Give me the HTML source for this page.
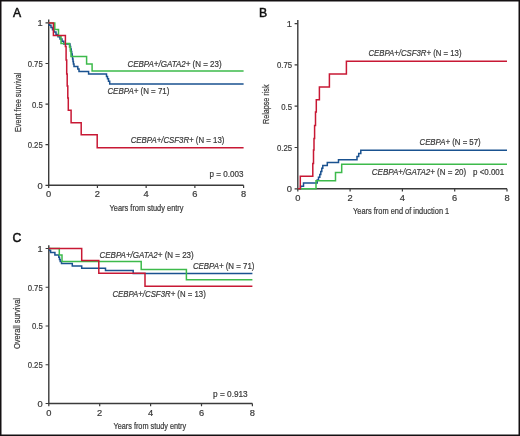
<!DOCTYPE html>
<html><head><meta charset="utf-8"><style>
html,body{margin:0;padding:0;background:#fff;}
body{width:520px;height:436px;overflow:hidden;}
svg{display:block;filter:blur(0.3px);font-family:"Liberation Sans", sans-serif;fill:#3a3a3a;}
text{stroke:#3a3a3a;stroke-width:0.22px;}
</style></head><body>
<svg width="520" height="436" viewBox="0 0 520 436">
<rect x="0" y="0" width="520" height="436" fill="#fff"/>
<g fill="#3a3a3a">
<path d="M48.7,19.6 V185.3 H243.6" fill="none" stroke="#3b3b3b" stroke-width="1.4"/>
<path d="M45.50,22.90 H48.7 M45.50,63.50 H48.7 M45.50,104.10 H48.7 M45.50,144.70 H48.7 M45.50,185.30 H48.7 M48.70,185.3 V188.10 M97.42,185.3 V188.10 M146.15,185.3 V188.10 M194.88,185.3 V188.10 M243.60,185.3 V188.10 " fill="none" stroke="#3b3b3b" stroke-width="1.2"/>
<text x="42.7" y="26.3" font-size="9.3" text-anchor="end">1</text>
<text x="42.7" y="66.9" font-size="9.3" textLength="15.07" lengthAdjust="spacingAndGlyphs" text-anchor="end">0.75</text>
<text x="42.7" y="107.5" font-size="9.3" textLength="10.76" lengthAdjust="spacingAndGlyphs" text-anchor="end">0.5</text>
<text x="42.7" y="148.1" font-size="9.3" textLength="15.07" lengthAdjust="spacingAndGlyphs" text-anchor="end">0.25</text>
<text x="42.7" y="188.7" font-size="9.3" text-anchor="end">0</text>
<text x="48.7" y="197.4" font-size="9.3" text-anchor="middle">0</text>
<text x="97.42" y="197.4" font-size="9.3" text-anchor="middle">2</text>
<text x="146.15" y="197.4" font-size="9.3" text-anchor="middle">4</text>
<text x="194.88" y="197.4" font-size="9.3" text-anchor="middle">6</text>
<text x="243.6" y="197.4" font-size="9.3" text-anchor="middle">8</text>
<path d="M48.6,22.9 H49.5 V25.2 H51 V27.5 H52.5 V29.8 H54 V32.1 H56 V34.4 H58 V36.7 H60 V39 H62 V41.3 H63.8 V44.1 H70 V46.5 H70.6 V49 H71.2 V51.5 H71.7 V54 H72.2 V56.5 H72.6 V59 H73 V61.5 H73.4 V64 H74 V66.6 H77.8 V68.9 H79 V71.6 H88.6 V74.1 H106.5 V76.4 H107.5 V78.7 H108.5 V81.2 H109.7 V83.9 H243.6" fill="none" stroke="#1a5290" stroke-width="1.5" stroke-linejoin="miter"/>
<path d="M48.6,22.9 H54.8 V29.5 H58.5 V36 H61 V43.4 H69.5 V47 H70.3 V51 H71 V56.6 H86.6 V64 H92.1 V70.9 H243.6" fill="none" stroke="#3dba4b" stroke-width="1.5" stroke-linejoin="miter"/>
<path d="M48.6,22.9 H53.4 V35.5 H65.4 V46.5 H66.1 V60 H66.7 V74 H67.2 V86 H67.8 V98 H68.3 V110.2 H71.1 V122.8 H81.2 V134.8 H97.2 V147.7 H243.6" fill="none" stroke="#c81834" stroke-width="1.5" stroke-linejoin="miter"/>
<text x="127.4" y="66.6" font-size="9.4" textLength="94.2" lengthAdjust="spacingAndGlyphs"><tspan font-style="italic">CEBPA+/GATA2+</tspan> (N = 23)</text>
<text x="107.4" y="93.8" font-size="9.4" textLength="62.0" lengthAdjust="spacingAndGlyphs"><tspan font-style="italic">CEBPA+</tspan> (N = 71)</text>
<text x="130.7" y="143.0" font-size="9.4" textLength="93.7" lengthAdjust="spacingAndGlyphs"><tspan font-style="italic">CEBPA+/CSF3R+</tspan> (N = 13)</text>
<text x="209.6" y="176.8" font-size="8.9" textLength="33.8" lengthAdjust="spacingAndGlyphs">p = 0.003</text>
<text x="109.6" y="211.0" font-size="9.0" textLength="73.9" lengthAdjust="spacingAndGlyphs">Years from study entry</text>
<text x="20.8" y="132.0" font-size="9.0" textLength="59.3" lengthAdjust="spacingAndGlyphs" transform="rotate(-90 20.8 132.0)">Event free survival</text>
<text x="12.9" y="16.5" font-size="12.2" fill="#111" style="stroke:#111;stroke-width:0.5px">A</text>
<path d="M297.8,20.0 V188.8 H507.0" fill="none" stroke="#3b3b3b" stroke-width="1.4"/>
<path d="M294.60,23.60 H297.8 M294.60,64.90 H297.8 M294.60,106.20 H297.8 M294.60,147.50 H297.8 M294.60,188.80 H297.8 M297.80,188.8 V191.60 M350.10,188.8 V191.60 M402.40,188.8 V191.60 M454.70,188.8 V191.60 M507.00,188.8 V191.60 " fill="none" stroke="#3b3b3b" stroke-width="1.2"/>
<text x="292.0" y="27.0" font-size="9.3" text-anchor="end">1</text>
<text x="292.0" y="68.3" font-size="9.3" textLength="15.07" lengthAdjust="spacingAndGlyphs" text-anchor="end">0.75</text>
<text x="292.0" y="109.6" font-size="9.3" textLength="10.76" lengthAdjust="spacingAndGlyphs" text-anchor="end">0.5</text>
<text x="292.0" y="150.9" font-size="9.3" textLength="15.07" lengthAdjust="spacingAndGlyphs" text-anchor="end">0.25</text>
<text x="292.0" y="192.2" font-size="9.3" text-anchor="end">0</text>
<text x="297.8" y="201.0" font-size="9.3" text-anchor="middle">0</text>
<text x="350.1" y="201.0" font-size="9.3" text-anchor="middle">2</text>
<text x="402.4" y="201.0" font-size="9.3" text-anchor="middle">4</text>
<text x="454.7" y="201.0" font-size="9.3" text-anchor="middle">6</text>
<text x="507.0" y="201.0" font-size="9.3" text-anchor="middle">8</text>
<path d="M297.8,188.8 H300.6 V186.2 H303.5 V183.1 H317.2 V179.9 H318.5 V177.3 H319.8 V174.6 H320.8 V171.5 H321.8 V168.3 H322.8 V165.6 H327.3 V162.6 H338.5 V159.7 H357 V156.5 H358.7 V153.4 H360.8 V150.3 H507" fill="none" stroke="#1a5290" stroke-width="1.5" stroke-linejoin="miter"/>
<path d="M297.8,188.8 H316 V180.8 H335.5 V172.5 H341.7 V164.2 H507" fill="none" stroke="#3dba4b" stroke-width="1.5" stroke-linejoin="miter"/>
<path d="M297.8,188.8 H300.3 V176.2 H312.8 V163.5 H313.5 V150 H314 V138.4 H314.6 V125.5 H315.5 V112 H316.3 V99.7 H319.4 V87.1 H329.4 V74.1 H346.4 V61.3 H507" fill="none" stroke="#c81834" stroke-width="1.5" stroke-linejoin="miter"/>
<text x="368.5" y="55.9" font-size="9.4" textLength="93.0" lengthAdjust="spacingAndGlyphs"><tspan font-style="italic">CEBPA+/CSF3R+</tspan> (N = 13)</text>
<text x="419.5" y="145.0" font-size="9.4" textLength="61.2" lengthAdjust="spacingAndGlyphs"><tspan font-style="italic">CEBPA+</tspan> (N = 57)</text>
<text x="371.8" y="174.7" font-size="9.4" textLength="94.4" lengthAdjust="spacingAndGlyphs"><tspan font-style="italic">CEBPA+/GATA2+</tspan> (N = 20)</text>
<text x="473.0" y="174.7" font-size="8.9" textLength="31.2" lengthAdjust="spacingAndGlyphs">p &lt;0.001</text>
<text x="353.0" y="213.8" font-size="9.0" textLength="96.2" lengthAdjust="spacingAndGlyphs">Years from end of induction 1</text>
<text x="269.4" y="124.0" font-size="9.0" textLength="39.5" lengthAdjust="spacingAndGlyphs" transform="rotate(-90 269.4 124.0)">Relapse risk</text>
<text x="259.0" y="16.5" font-size="12.2" fill="#111" style="stroke:#111;stroke-width:0.5px">B</text>
<path d="M48.8,245.2 V403.5 H252.4" fill="none" stroke="#3b3b3b" stroke-width="1.4"/>
<path d="M45.60,248.50 H48.8 M45.60,287.25 H48.8 M45.60,326.00 H48.8 M45.60,364.75 H48.8 M45.60,403.50 H48.8 M48.80,403.5 V406.30 M99.70,403.5 V406.30 M150.60,403.5 V406.30 M201.50,403.5 V406.30 M252.40,403.5 V406.30 " fill="none" stroke="#3b3b3b" stroke-width="1.2"/>
<text x="42.7" y="251.9" font-size="9.3" text-anchor="end">1</text>
<text x="42.7" y="290.65" font-size="9.3" textLength="15.07" lengthAdjust="spacingAndGlyphs" text-anchor="end">0.75</text>
<text x="42.7" y="329.4" font-size="9.3" textLength="10.76" lengthAdjust="spacingAndGlyphs" text-anchor="end">0.5</text>
<text x="42.7" y="368.15" font-size="9.3" textLength="15.07" lengthAdjust="spacingAndGlyphs" text-anchor="end">0.25</text>
<text x="42.7" y="406.9" font-size="9.3" text-anchor="end">0</text>
<text x="48.8" y="415.8" font-size="9.3" text-anchor="middle">0</text>
<text x="99.7" y="415.8" font-size="9.3" text-anchor="middle">2</text>
<text x="150.6" y="415.8" font-size="9.3" text-anchor="middle">4</text>
<text x="201.5" y="415.8" font-size="9.3" text-anchor="middle">6</text>
<text x="252.4" y="415.8" font-size="9.3" text-anchor="middle">8</text>
<path d="M48.8,248.4 H49.6 V250.5 H50.6 V252.6 H54.9 V255 H58.8 V257.3 H59.5 V259.5 H60.2 V261.6 H61.5 V263.5 H72.3 V266 H81.7 V268.2 H105.5 V270.5 H133.2 V273.6 H252.4" fill="none" stroke="#1a5290" stroke-width="1.5" stroke-linejoin="miter"/>
<path d="M48.8,248.4 H59.3 V255 H62 V261.6 H141.2 V269.5 H186.4 V279.7 H252.4" fill="none" stroke="#3dba4b" stroke-width="1.5" stroke-linejoin="miter"/>
<path d="M48.8,248.4 H81.7 V260.5 H98.8 V273.2 H145 V286.2 H252.4" fill="none" stroke="#c81834" stroke-width="1.5" stroke-linejoin="miter"/>
<text x="99.5" y="257.7" font-size="9.4" textLength="94.2" lengthAdjust="spacingAndGlyphs"><tspan font-style="italic">CEBPA+/GATA2+</tspan> (N = 23)</text>
<text x="192.9" y="268.5" font-size="9.4" textLength="61.5" lengthAdjust="spacingAndGlyphs"><tspan font-style="italic">CEBPA+</tspan> (N = 71)</text>
<text x="112.4" y="296.9" font-size="9.4" textLength="93.4" lengthAdjust="spacingAndGlyphs"><tspan font-style="italic">CEBPA+/CSF3R+</tspan> (N = 13)</text>
<text x="213.1" y="396.5" font-size="8.9" textLength="34.6" lengthAdjust="spacingAndGlyphs">p = 0.913</text>
<text x="113.5" y="428.5" font-size="9.0" textLength="72.7" lengthAdjust="spacingAndGlyphs">Years from study entry</text>
<text x="20.3" y="349.0" font-size="9.0" textLength="51.0" lengthAdjust="spacingAndGlyphs" transform="rotate(-90 20.3 349.0)">Overall survival</text>
<text x="12.5" y="242.0" font-size="12.2" fill="#111" style="stroke:#111;stroke-width:0.5px">C</text>
</g>
<rect x="0.75" y="0.75" width="518.5" height="434.5" fill="none" stroke="#141012" stroke-width="1.5"/>
</svg>
</body></html>
